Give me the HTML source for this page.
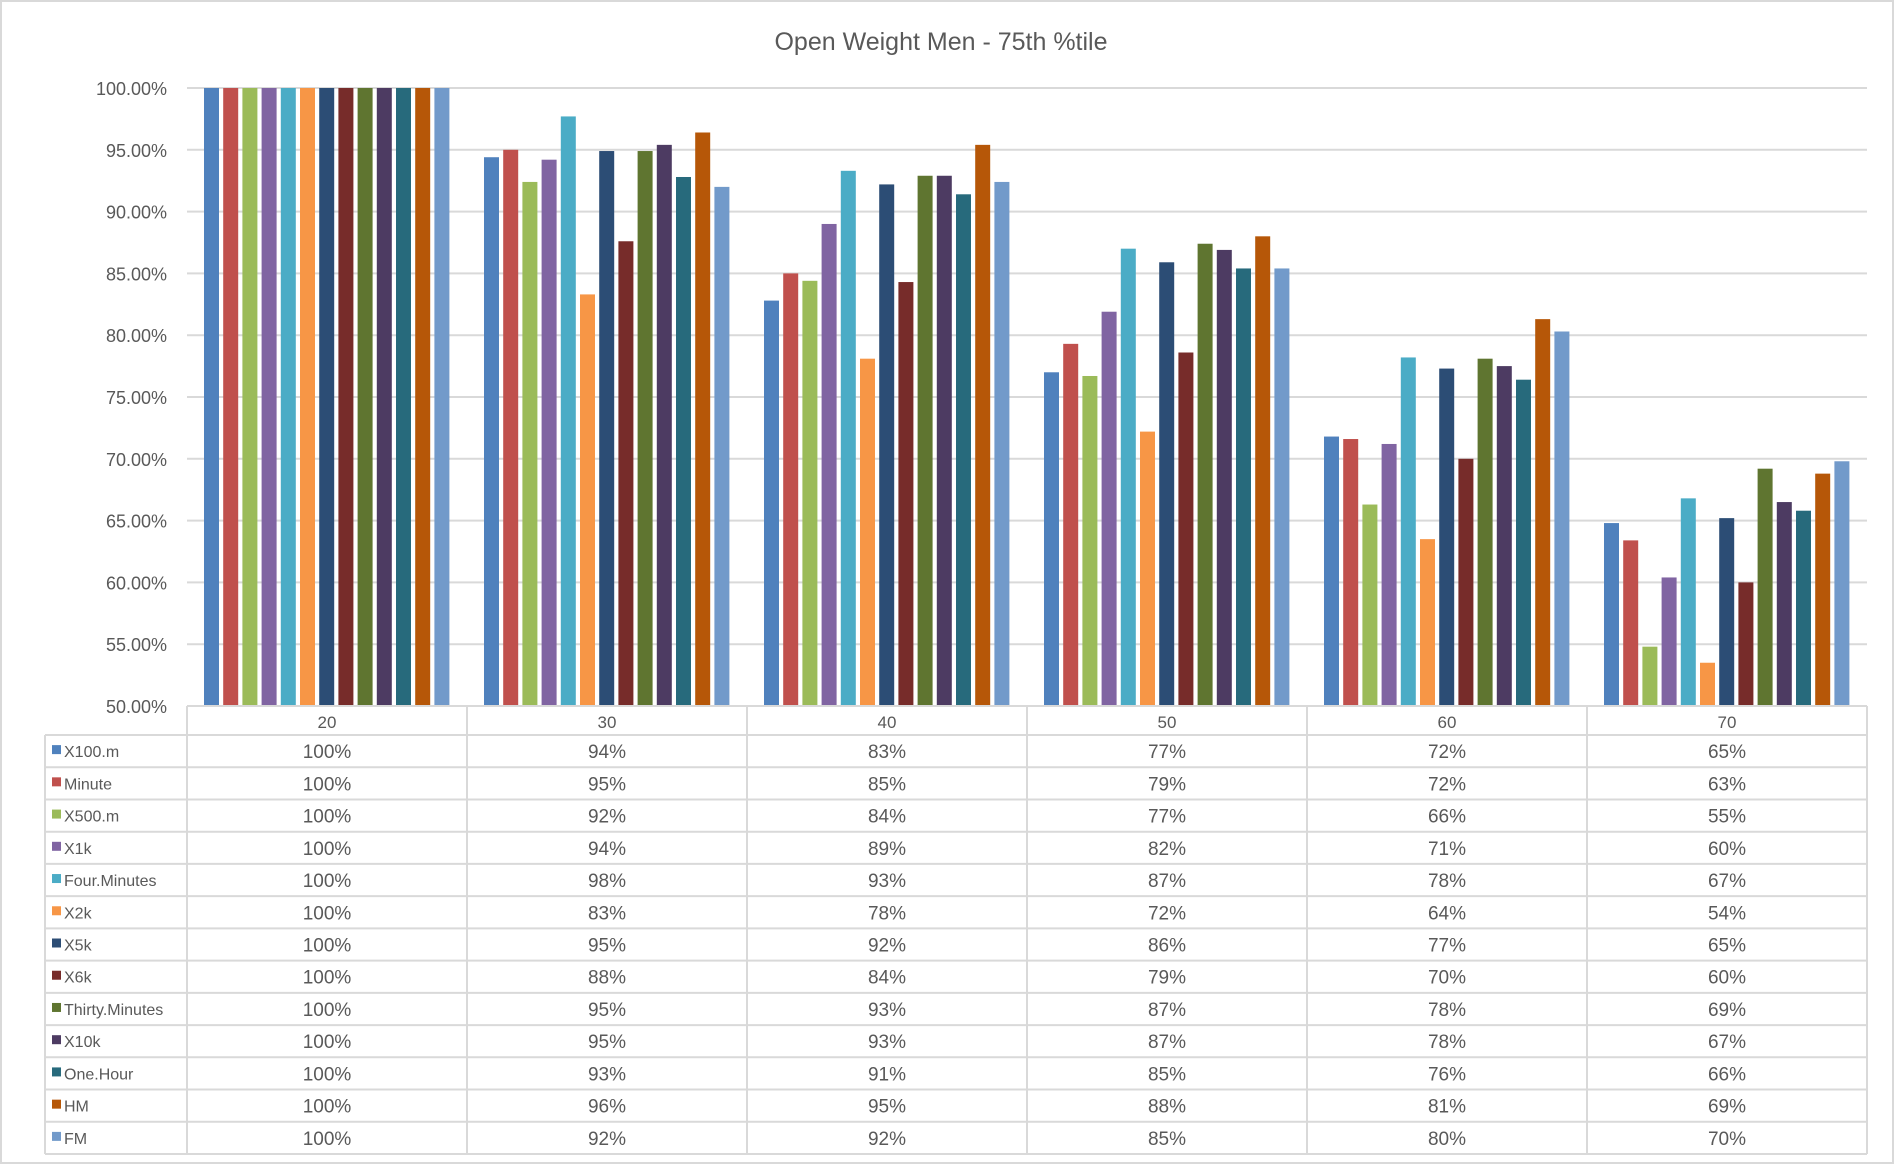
<!DOCTYPE html>
<html><head><meta charset="utf-8"><style>
body{margin:0;background:#fff}
svg{display:block;font-family:"Liberation Sans",sans-serif}
</style></head><body>
<svg id="chart" width="1895" height="1165" viewBox="0 0 1895 1165">
<rect x="1" y="1" width="1892" height="1162" fill="#fff" stroke="#d9d9d9" stroke-width="2"/>
<text x="941" y="50" text-anchor="middle" font-size="25" fill="#595959">Open Weight Men - 75th %tile</text>
<g id="grid"></g><g id="bars"></g><g id="table"></g>
</svg>
<script>
const categories=["20","30","40","50","60","70"];
const seriesNames=["X100.m","Minute","X500.m","X1k","Four.Minutes","X2k","X5k","X6k","Thirty.Minutes","X10k","One.Hour","HM","FM"];
const seriesColors=["#4F81BD","#C0504D","#9BBB59","#8064A2","#4BACC6","#F79646","#2C4D75","#772C2A","#5F7530","#4D3B62","#276A7C","#B65708","#729ACA"];
const X100m=[100,94.4,82.8,77.0,71.8,64.8];
const Minute=[100,95.0,85.0,79.3,71.6,63.4];
const X500m=[100,92.4,84.4,76.7,66.3,54.8];
const X1k=[100,94.2,89.0,81.9,71.2,60.4];
const FourMinutes=[100,97.7,93.3,87.0,78.2,66.8];
const X2k=[100,83.3,78.1,72.2,63.5,53.5];
const X5k=[100,94.9,92.2,85.9,77.3,65.2];
const X6k=[100,87.6,84.3,78.6,70.0,60.0];
const ThirtyMinutes=[100,94.9,92.9,87.4,78.1,69.2];
const X10k=[100,95.4,92.9,86.9,77.5,66.5];
const OneHour=[100,92.8,91.4,85.4,76.4,65.8];
const HM=[100,96.4,95.4,88.0,81.3,68.8];
const FM=[100,92.0,92.4,85.4,80.3,69.8];
const seriesValues=[X100m,Minute,X500m,X1k,FourMinutes,X2k,X5k,X6k,ThirtyMinutes,X10k,OneHour,HM,FM];
const yTicks=[50,55,60,65,70,75,80,85,90,95,100];

const NS="http://www.w3.org/2000/svg";
const L=187,R=1867,T=88,B=706,yMin=50,yMax=100;
const gw=(R-L)/categories.length;
const y=v=>B-(v-yMin)/(yMax-yMin)*(B-T);
const xg=i=>L+i*gw;
function mk(tag,attrs,parent,text){const e=document.createElementNS(NS,tag);for(const k in attrs)e.setAttribute(k,attrs[k]);if(text!=null)e.textContent=text;parent.appendChild(e);return e;}
const grid=document.getElementById('grid'),bars=document.getElementById('bars'),table=document.getElementById('table');
yTicks.forEach(t=>{
  const ln=mk('line',{x1:L,x2:R,y1:y(t),y2:y(t),stroke:'#d9d9d9','stroke-width':2},grid);
  
  
  const tx=mk('text',{x:167,y:y(t)+7,'text-anchor':'end','font-size':18,fill:'#595959'},grid,t.toFixed(2)+'%');
  
  
});
const pitch=19.2,bw=15,off=17;
seriesValues.forEach((vals,s)=>{
  vals.forEach((v,i)=>{
    const r=mk('rect',{x:xg(i)+off+s*pitch,y:y(v),width:bw,height:B-y(v),fill:seriesColors[s]},bars);
    
    
  });
});
// table
const hTop=B,hBot=735,rh=(1154-735)/13,tL=45;
const st={stroke:'#d9d9d9','stroke-width':2};
mk('line',Object.assign({x1:L,x2:R,y1:hTop,y2:hTop},st),table);
mk('line',Object.assign({x1:tL,x2:R,y1:hBot,y2:hBot},st),table);
for(let r=1;r<=13;r++)mk('line',Object.assign({x1:tL,x2:R,y1:hBot+r*rh,y2:hBot+r*rh},st),table);
mk('line',Object.assign({x1:tL,x2:tL,y1:hBot,y2:hBot+13*rh},st),table);
for(let i=0;i<=categories.length;i++)mk('line',Object.assign({x1:xg(i),x2:xg(i),y1:hTop,y2:hBot+13*rh},st),table);
categories.forEach((c,i)=>{
  const t=mk('text',{x:xg(i)+gw/2,y:728,'text-anchor':'middle','font-size':17,fill:'#595959'},table,c);
  
  
});
seriesNames.forEach((n,s)=>{
  const cy=hBot+s*rh+rh/2;
  const sw=mk('rect',{x:52,y:cy-6,width:9,height:9,fill:seriesColors[s]},table);
  
  
  const t=mk('text',{x:64,y:cy+6,'font-size':16,fill:'#595959'},table,n);
  
  
  seriesValues[s].forEach((v,i)=>{
    const c=mk('text',{x:xg(i)+gw/2,y:cy+7,'text-anchor':'middle','font-size':19,fill:'#595959'},table,Math.round(v)+'%');
    
    
  });
});
</script>
</body></html>
